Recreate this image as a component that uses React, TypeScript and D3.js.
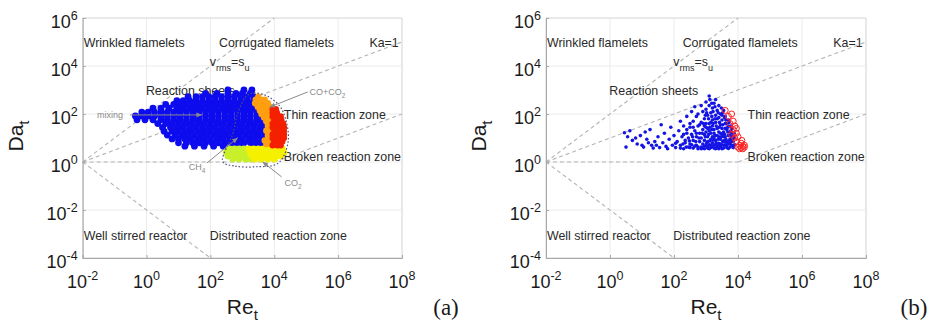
import { useEffect, useRef } from "react";
import * as d3 from "d3";

// all values are log10 exponents: [log10 Re_t, log10 Da_t]
const xExponents = [-2, 0, 2, 4, 6, 8];
const yExponents = [-4, -2, 0, 2, 4, 6];

// regime boundaries of the diagram
const regimeLines = [
  [[-2, 0], [4, 6]],
  [[-2, 0], [8, 5]],
  [[-2, 0], [4, 0]],
  [[4, 0], [8, 2]],
  [[-2, 0], [2, -4]],
];

const regimeNames = [
  "Wrinkled flamelets",
  "Corrugated flamelets",
  "Ka=1",
  "Reaction sheets",
  "Thin reaction zone",
  "Broken reaction zone",
  "Well stirred reactor",
  "Distributed reaction zone",
];
const regimeSpots = [
  [-1.97, 4.8], [2.27, 4.8], [6.98, 4.8], [-0.02, 2.8],
  [4.3, 1.78], [4.3, 0.04], [-1.97, -3.25], [1.98, -3.25],
];
const vrmsSpot = [1.98, 4.0];

// panel (a): blue cloud, one row per log10 Da_t
const blueRowsA: [number, number[]][] = [
  [3.0, [2.55, 3.05, 3.3]],
  [2.86, [1.85, 2.2, 2.55, 2.8, 3.0, 3.25]],
  [2.72, [1.3, 1.55, 1.75, 1.95, 2.15, 2.35, 2.55, 2.75, 2.95, 3.15, 3.35]],
  [2.56, [0.95, 1.15, 1.35, 1.55, 1.75, 1.95, 2.15, 2.35, 2.55, 2.75, 2.95, 3.15, 3.35, 3.5]],
  [2.4, [0.6, 0.85, 1.05, 1.25, 1.45, 1.65, 1.85, 2.05, 2.25, 2.45, 2.65, 2.85, 3.05, 3.25, 3.45, 3.6]],
  [2.24, [0.2, 0.45, 0.7, 0.95, 1.15, 1.35, 1.55, 1.75, 1.95, 2.15, 2.35, 2.55, 2.75, 2.95, 3.15, 3.35, 3.55, 3.7]],
  [2.08, [-0.15, 0.05, 0.25, 0.45, 0.65, 0.85, 1.05, 1.25, 1.45, 1.65, 1.85, 2.05, 2.25, 2.45, 2.65, 2.85, 3.05, 3.25, 3.45, 3.65, 3.8]],
  [1.92, [-0.35, -0.15, 0.05, 0.25, 0.45, 0.65, 0.85, 1.05, 1.25, 1.45, 1.65, 1.85, 2.05, 2.25, 2.45, 2.65, 2.85, 3.05, 3.25, 3.45, 3.65, 3.85]],
  [1.76, [-0.3, -0.05, 0.2, 0.45, 0.65, 0.85, 1.05, 1.25, 1.45, 1.65, 1.85, 2.05, 2.25, 2.45, 2.65, 2.85, 3.05, 3.25, 3.45, 3.65, 3.85]],
  [1.6, [0.35, 0.6, 0.8, 1.0, 1.2, 1.4, 1.6, 1.8, 2.0, 2.2, 2.4, 2.6, 2.8, 3.0, 3.2, 3.4, 3.6, 3.8]],
  [1.44, [0.5, 0.75, 0.95, 1.15, 1.35, 1.55, 1.75, 1.95, 2.15, 2.35, 2.55, 2.75, 2.95, 3.15, 3.35, 3.55, 3.75, 3.9]],
  [1.28, [0.55, 0.8, 1.0, 1.2, 1.4, 1.6, 1.8, 2.0, 2.2, 2.4, 2.6, 2.8, 3.0, 3.2, 3.4, 3.6, 3.8]],
  [1.12, [0.65, 0.9, 1.1, 1.3, 1.5, 1.7, 1.9, 2.1, 2.3, 2.5, 2.7, 2.9, 3.1, 3.3, 3.5, 3.7, 3.85]],
  [0.96, [0.8, 1.0, 1.2, 1.4, 1.6, 1.8, 2.0, 2.2, 2.4, 2.6, 2.8, 3.0, 3.2, 3.4, 3.6, 3.8]],
  [0.8, [1.0, 1.25, 1.45, 1.65, 1.85, 2.05, 2.25, 2.45, 2.65, 2.85, 3.05, 3.25, 3.45, 3.65, 3.8]],
  [0.66, [1.2, 1.5, 1.8, 2.1, 2.4, 2.7, 3.0, 3.3, 3.55, 3.75]],
];

const limeRowsA: [number, number[]][] = [
  [0.55, [2.6, 2.75, 2.9, 3.05]],
  [0.4, [2.5, 2.65, 2.8, 2.95, 3.1]],
  [0.25, [2.55, 2.7, 2.85, 3.0, 3.15]],
  [0.12, [2.7, 2.9, 3.1, 3.25]],
];
const yellowRowsA: [number, number[]][] = [
  [0.55, [3.2, 3.35, 3.5, 3.65, 3.8, 3.95, 4.1, 4.25]],
  [0.4, [3.25, 3.4, 3.55, 3.7, 3.85, 4.0, 4.15, 4.3]],
  [0.25, [3.3, 3.45, 3.6, 3.75, 3.9, 4.05, 4.2]],
  [0.12, [3.4, 3.6, 3.8, 4.0]],
];
const orangeRowsA: [number, number[]][] = [
  [2.72, [3.5]],
  [2.6, [3.42, 3.58, 3.7]],
  [2.45, [3.4, 3.52, 3.65, 3.8]],
  [2.3, [3.48, 3.6, 3.72, 3.85]],
  [2.15, [3.55, 3.68, 3.8, 3.9]],
  [2.0, [3.6, 3.72, 3.84]],
  [1.85, [3.68, 3.8]],
  [1.7, [3.75, 3.9]],
  [1.5, [3.8]],
  [1.3, [3.75, 3.9]],
  [1.1, [3.8]],
  [0.9, [3.7, 3.85]],
  [0.75, [3.75, 3.9]],
];
const redRowsA: [number, number[]][] = [
  [2.2, [3.95, 4.05]],
  [2.05, [3.95, 4.08]],
  [1.9, [3.95, 4.1, 4.2]],
  [1.75, [4.0, 4.12, 4.22]],
  [1.6, [3.95, 4.08, 4.2, 4.28]],
  [1.45, [3.95, 4.08, 4.2, 4.3]],
  [1.3, [4.0, 4.12, 4.25, 4.3]],
  [1.15, [3.95, 4.08, 4.2, 4.3]],
  [1.0, [3.95, 4.1, 4.22, 4.3]],
  [0.85, [4.0, 4.15, 4.25]],
  [0.7, [3.95, 4.1, 4.2]],
];

// dotted outline around the reacting region in (a)
const outlineA = [
  [2.375, 0.08], [2.78, -0.17], [3.4, -0.2], [4.13, -0.04], [4.44, 0.92],
  [4.28, 2.08], [3.88, 2.67], [3.4, 2.88], [3.1, 2.7], [2.85, 2.0], [2.69, 1.13],
];

// annotations in (a): label parts, label spot, arrow from -> to
const noteParts = [
  [["mixing", ""]],
  [["CO+CO", ""], ["2", "sub"]],
  [["CH", ""], ["4", "sub"]],
  [["CO", ""], ["2", "sub"]],
];
const noteSpots = [[-1.55, 1.83], [5.1, 2.8], [1.32, -0.33], [4.32, -1.0]];
const noteArrows = [
  [[-0.52, 1.96], [1.73, 1.96]],
  [[5.05, 2.92], [3.86, 2.29]],
  [[1.89, -0.04], [2.85, 1.0]],
  [[4.23, -0.62], [3.64, 0.0]],
];

// panel (b): scattered samples
const bluePointsB = [
  [0.45, 1.22], [0.55, 1.05], [0.5, 0.62], [0.7, 0.9], [0.62, 1.3], [0.85, 0.75], [0.95, 1.1], [1.05, 0.62],
  [1.15, 0.95], [1.25, 1.35], [1.3, 0.7], [1.4, 0.85], [1.5, 1.05], [1.55, 0.6], [1.65, 0.8], [1.7, 1.2],
  [1.75, 0.65], [1.85, 0.95], [1.9, 1.45], [1.95, 0.7], [2.0, 1.1], [1.8, 0.55], [1.6, 1.55], [1.35, 0.58],
  [1.1, 1.25], [2.05, 0.6], [2.1, 0.85], [2.15, 1.3], [2.2, 1.7], [2.2, 0.7], [2.25, 1.05], [2.3, 0.55],
  [2.3, 1.5], [2.35, 0.8], [2.4, 1.2], [2.4, 1.9], [2.45, 0.62], [2.45, 1.0], [2.5, 1.45], [2.5, 0.75],
  [2.55, 2.1], [2.55, 1.15], [2.6, 0.58], [2.6, 0.9], [2.6, 1.7], [2.65, 1.3], [2.65, 2.3], [2.7, 0.7],
  [2.7, 1.05], [2.7, 1.9], [2.75, 0.55], [2.75, 1.5], [2.75, 2.0], [2.8, 0.85], [2.8, 1.2], [2.85, 0.62],
  [2.85, 1.0], [2.85, 1.65], [2.85, 2.35], [2.9, 0.75], [2.9, 1.35], [2.9, 2.1], [2.95, 0.55], [2.95, 0.9],
  [2.95, 1.15], [2.95, 1.8], [3.0, 0.68], [3.0, 1.45], [3.0, 2.2], [3.0, 2.5], [3.05, 0.58], [3.05, 0.85],
  [3.05, 1.05], [3.05, 1.95], [3.1, 0.72], [3.1, 1.3], [3.1, 1.6], [3.1, 2.75], [3.1, 2.35], [3.15, 0.6],
  [3.15, 0.95], [3.15, 1.2], [3.15, 2.05], [3.2, 0.8], [3.2, 1.5], [3.2, 1.75], [3.2, 2.25], [3.25, 0.58],
  [3.25, 1.0], [3.25, 1.35], [3.25, 2.45], [3.3, 0.7], [3.3, 0.9], [3.3, 1.65], [3.3, 1.95], [3.35, 0.6],
  [3.35, 1.1], [3.35, 1.4], [3.35, 2.15], [3.4, 0.78], [3.4, 1.25], [3.4, 1.85], [3.4, 2.35], [3.45, 0.62],
  [3.45, 0.95], [3.45, 1.55], [3.45, 2.0], [3.5, 0.72], [3.5, 1.15], [3.5, 1.4], [3.5, 1.75], [3.55, 0.58],
  [3.55, 0.88], [3.55, 1.25], [3.55, 2.15], [3.6, 0.7], [3.6, 1.05], [3.6, 1.6], [3.6, 1.9], [3.65, 0.6],
  [3.65, 0.85], [3.65, 1.35], [3.7, 0.75], [3.7, 1.1], [3.7, 1.5], [3.7, 1.75], [3.75, 0.62], [3.75, 0.95],
  [3.75, 1.25], [3.8, 0.7], [3.8, 1.05], [3.8, 1.4], [3.85, 0.6], [3.85, 0.85], [3.9, 0.72], [3.9, 1.0],
  [2.9, 0.58], [3.0, 1.6], [3.2, 0.65], [3.4, 0.55], [3.6, 1.4], [3.3, 2.6], [3.0, 1.25], [2.8, 1.55],
  [3.5, 1.95], [3.15, 1.65], [3.35, 1.8], [3.45, 1.2], [3.65, 1.6], [3.25, 1.2], [3.05, 1.4], [3.55, 1.05],
  [3.75, 1.1], [2.95, 1.5], [3.2, 1.05], [3.4, 1.05], [3.6, 0.82], [3.8, 0.85], [2.2, 0.58], [2.5, 0.6],
  [2.85, 0.55], [3.1, 0.55], [3.3, 0.55], [3.5, 0.55], [3.7, 0.56], [2.65, 0.66], [2.95, 0.66], [3.15, 0.7],
  [3.35, 0.68], [3.55, 0.7], [3.85, 0.68],
  [3.02, 0.78], [3.12, 0.88], [3.22, 0.92], [3.32, 0.8], [3.42, 0.68], [3.52, 0.85], [3.62, 0.95], [3.72, 0.88],
  [3.82, 0.95], [3.88, 1.2], [3.78, 1.3], [3.68, 1.25], [3.58, 1.15], [3.48, 1.05], [3.38, 0.95], [3.28, 1.1],
  [3.18, 1.35], [3.08, 1.15], [2.98, 1.05], [2.88, 1.2], [2.78, 1.0], [2.68, 0.85], [2.58, 1.05], [2.48, 0.88],
  [2.38, 0.62], [2.28, 0.75], [3.12, 1.45], [3.22, 1.6], [3.32, 1.5], [3.42, 1.65], [3.52, 1.55], [3.62, 1.75],
  [3.72, 1.65], [3.42, 1.45], [3.28, 1.8], [3.18, 1.9], [3.08, 1.8], [2.98, 1.95], [3.38, 2.05], [3.48, 2.25],
  [3.28, 2.3], [3.18, 2.45], [3.12, 2.6], [3.22, 2.1], [3.02, 2.05], [2.92, 1.6], [3.58, 1.85], [3.52, 2.05],
  [3.68, 1.45], [3.78, 1.5], [3.82, 1.2], [3.85, 1.05], [3.75, 0.78], [3.65, 0.72], [3.45, 0.75], [3.25, 0.72],
  [3.05, 0.65], [2.75, 0.62], [2.55, 0.72], [2.35, 0.9], [2.05, 0.78], [1.45, 0.7], [1.2, 0.8], [0.8, 1.0],
  [1.0, 0.7], [2.6, 1.45], [2.7, 1.2], [2.5, 1.6], [2.4, 1.35], [2.3, 1.15],
];
const redPointsB = [
  [3.6, 2.15], [3.7, 1.9], [3.75, 1.6], [3.8, 2.0], [3.85, 1.7], [3.85, 1.35], [3.9, 1.5], [3.95, 1.2],
  [3.9, 1.0], [3.95, 0.85], [4.0, 1.05], [4.05, 0.7], [4.1, 0.6], [4.15, 0.65], [4.1, 0.78], [4.2, 0.7],
  [4.05, 0.55], [4.15, 0.55], [4.0, 0.62], [4.12, 0.9], [3.95, 1.4], [3.8, 1.15], [4.2, 0.62],
];

const panels = [
  { left: 82.7, right: 402, tag: "(a)", tagX: 446 },
  { left: 546, right: 866, tag: "(b)", tagX: 914 },
];

const rowsToPoints = (rows: [number, number[]][]) =>
  rows.flatMap(([da, res]) => res.map((re) => [re, da]));

const sans = "'Liberation Sans', Arial, Helvetica, sans-serif";

function App() {
  const ref = useRef<SVGSVGElement>(null);

  useEffect(() => {
    const svg = d3.select(ref.current);
    svg.selectAll("*").remove();

    svg.append("defs").append("marker")
      .attr("id", "head")
      .attr("viewBox", "0 0 10 10")
      .attr("refX", 9).attr("refY", 5)
      .attr("markerWidth", 6).attr("markerHeight", 6)
      .attr("orient", "auto")
      .append("path").attr("d", "M0,1 L10,5 L0,9 Z").attr("fill", "#8a8a8a");

    panels.forEach((p, pi) => {
      const x = d3.scaleLog().domain([1e-2, 1e8]).range([p.left, p.right]);
      const y = d3.scaleLog().domain([1e-4, 1e6]).range([258, 18]);
      const px = (e: number) => x(Math.pow(10, e));
      const py = (e: number) => y(Math.pow(10, e));
      const g = svg.append("g");

      // grid
      g.selectAll("line.gx").data(xExponents).join("line")
        .attr("x1", (d) => px(d)).attr("x2", (d) => px(d))
        .attr("y1", 18).attr("y2", 258)
        .attr("stroke", "#ececec");
      g.selectAll("line.gy").data(yExponents).join("line")
        .attr("y1", (d) => py(d)).attr("y2", (d) => py(d))
        .attr("x1", p.left).attr("x2", p.right)
        .attr("stroke", "#ececec");
      g.append("rect")
        .attr("x", p.left).attr("y", 18)
        .attr("width", p.right - p.left).attr("height", 240)
        .attr("fill", "none").attr("stroke", "#dcdcdc");

      // regime boundaries
      const line = d3.line<number[]>().x((d) => px(d[0])).y((d) => py(d[1]));
      g.selectAll("path.regime").data(regimeLines).join("path")
        .attr("d", (d) => line(d))
        .attr("fill", "none").attr("stroke", "#b4b4b4")
        .attr("stroke-width", 1.1).attr("stroke-dasharray", "4,3");

      // regime names
      g.selectAll("text.name").data(regimeNames).join("text")
        .attr("x", (d, i) => px(regimeSpots[i][0]))
        .attr("y", (d, i) => py(regimeSpots[i][1]))
        .attr("font-family", sans).attr("font-size", 12.4)
        .attr("fill", "#2a2a2a")
        .text((d) => d);
      const vt = g.append("text")
        .attr("x", px(vrmsSpot[0])).attr("y", py(vrmsSpot[1]))
        .attr("font-family", sans).attr("font-size", 12.4).attr("fill", "#2a2a2a");
      vt.append("tspan").text("v");
      vt.append("tspan").attr("dy", 5).attr("font-size", 9).text("rms");
      vt.append("tspan").attr("dy", -5).text("=s");
      vt.append("tspan").attr("dy", 5).attr("font-size", 9).text("u");

      if (pi === 0) {
        const dots = (pts: number[][], color: string, r: number) =>
          g.append("g").selectAll("circle").data(pts).join("circle")
            .attr("cx", (d) => px(d[0])).attr("cy", (d) => py(d[1]))
            .attr("r", r).attr("fill", color);
        dots(rowsToPoints(blueRowsA), "#0c0cee", 3.4);
        dots(rowsToPoints(limeRowsA), "#c8f02a", 3.4);
        dots(rowsToPoints(yellowRowsA), "#f4f000", 3.4);
        dots(rowsToPoints(orangeRowsA), "#ff9f10", 3.2);
        dots(rowsToPoints(redRowsA), "#f42000", 3.2);

        g.append("path")
          .attr("d", d3.line<number[]>().x((d) => px(d[0])).y((d) => py(d[1]))
            .curve(d3.curveCardinalClosed.tension(0))(outlineA))
          .attr("fill", "none").attr("stroke", "#4f4f78")
          .attr("stroke-width", 1.2).attr("stroke-dasharray", "1.5,2");

        g.selectAll("line.note").data(noteArrows).join("line")
          .attr("x1", (d) => px(d[0][0])).attr("y1", (d) => py(d[0][1]))
          .attr("x2", (d) => px(d[1][0])).attr("y2", (d) => py(d[1][1]))
          .attr("stroke", "#8a8a8a").attr("stroke-width", 1)
          .attr("marker-end", "url(#head)");
        noteParts.forEach((parts, i) => {
          const t = g.append("text")
            .attr("x", px(noteSpots[i][0])).attr("y", py(noteSpots[i][1]))
            .attr("font-family", sans).attr("font-size", 9).attr("fill", "#8a8a8a");
          parts.forEach(([s, kind]) => {
            const ts = t.append("tspan").text(s);
            if (kind === "sub") ts.attr("dy", 3).attr("font-size", 6.5);
          });
        });
      } else {
        g.append("g").selectAll("circle").data(bluePointsB).join("circle")
          .attr("cx", (d) => px(d[0])).attr("cy", (d) => py(d[1]))
          .attr("r", 1.8).attr("fill", "#1414e6");
        g.append("g").selectAll("circle").data(redPointsB).join("circle")
          .attr("cx", (d) => px(d[0])).attr("cy", (d) => py(d[1]))
          .attr("r", 3).attr("fill", "none")
          .attr("stroke", "#f22").attr("stroke-width", 1);
      }

      // axes
      g.append("g").attr("transform", `translate(0,258)`)
        .call(d3.axisBottom(x).tickValues(xExponents.map((e) => Math.pow(10, e)))
          .tickSize(-3).tickFormat(() => ""))
        .call((a) => a.select(".domain").attr("stroke", "#a8a8a8"))
        .call((a) => a.selectAll(".tick line").attr("stroke", "#a8a8a8"));
      g.append("g").attr("transform", `translate(${p.left},0)`)
        .call(d3.axisLeft(y).tickValues(yExponents.map((e) => Math.pow(10, e)))
          .tickSize(-3).tickFormat(() => ""))
        .call((a) => a.select(".domain").attr("stroke", "#a8a8a8"))
        .call((a) => a.selectAll(".tick line").attr("stroke", "#a8a8a8"));

      xExponents.forEach((e) => {
        const t = g.append("text")
          .attr("x", px(e)).attr("y", 288)
          .attr("text-anchor", "middle")
          .attr("font-family", sans).attr("font-size", 18).attr("fill", "#1a1a1a");
        t.append("tspan").text("10");
        t.append("tspan").attr("dy", -8).attr("font-size", 12.5).text(String(e));
      });
      yExponents.forEach((e) => {
        const t = g.append("text")
          .attr("x", p.left - 5).attr("y", py(e) + 10)
          .attr("text-anchor", "end")
          .attr("font-family", sans).attr("font-size", 18).attr("fill", "#1a1a1a");
        t.append("tspan").text("10");
        t.append("tspan").attr("dy", -8).attr("font-size", 12.5).text(String(e));
      });

      const xt = g.append("text")
        .attr("x", (p.left + p.right) / 2).attr("y", 314)
        .attr("text-anchor", "middle")
        .attr("font-family", sans).attr("font-size", 21).attr("fill", "#1a1a1a");
      xt.append("tspan").text("Re");
      xt.append("tspan").attr("dy", 6).attr("font-size", 15).text("t");

      const yt = g.append("text")
        .attr("transform", `translate(${p.left - 60},136) rotate(-90)`)
        .attr("text-anchor", "middle")
        .attr("font-family", sans).attr("font-size", 21).attr("fill", "#1a1a1a");
      yt.append("tspan").text("Da");
      yt.append("tspan").attr("dy", 6).attr("font-size", 15).text("t");

      g.append("text")
        .attr("x", p.tagX).attr("y", 315)
        .attr("text-anchor", "middle")
        .attr("font-family", "'Liberation Serif', 'Times New Roman', serif")
        .attr("font-size", 23).attr("fill", "#1a1a1a")
        .text(p.tag);
    });
  }, []);

  return (
    <svg
      ref={ref}
      width={937}
      height={324}
      style={{ position: "absolute", left: 0, top: 0, background: "#fff" }}
    />
  );
}

export default App;
